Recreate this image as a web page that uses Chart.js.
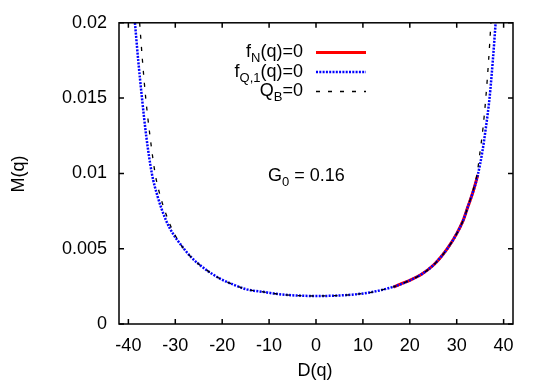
<!DOCTYPE html>
<html>
<head>
<meta charset="utf-8">
<script src="https://cdn.jsdelivr.net/npm/chart.js@4/dist/chart.umd.min.js"></script>
<style>
  html, body { margin: 0; padding: 0; background: #fff; }
</style>
</head>
<body>
<canvas id="chart" width="545" height="382"></canvas>
<script>
// axis ticks
const xTicks = [-40, -30, -20, -10, 0, 10, 20, 30, 40];
const yTicks = [0, 0.005, 0.01, 0.015, 0.02];
const yTickLabels = ['0', '0.005', '0.01', '0.015', '0.02'];

// f_N(q)=0  (red, solid)
const fnD = [16.5, 18.0, 20.0, 22.5, 25.0, 26.5, 28.0, 30.0, 31.4, 32.4, 33.5, 34.5];
const fnM = [0.00245, 0.00265, 0.0029, 0.0033, 0.0039, 0.0044, 0.0050, 0.0060, 0.0069, 0.0078, 0.0088, 0.0099];

// f_Q,1(q)=0  (blue, dotted)
const fqD = [-38.6, -37.9, -37.1, -36.2, -35.0, -33.8, -32.0, -30.5, -28.9, -26.8, -24.7, -22.5, -20.4, -17.5, -14.8, -11.0, -7.7, -4.0, 0,
             4.0, 7.7, 11.0, 14.0, 17.0, 20.0, 22.5, 25.0, 26.5, 28.0, 30.0, 31.4, 32.4, 33.5, 34.5, 35.5, 36.2, 37.0, 37.7, 38.3];
const fqM = [0.0200, 0.0175, 0.0150, 0.0125, 0.0100, 0.0085, 0.0069, 0.0060, 0.0053, 0.0045, 0.0039, 0.0034, 0.0030, 0.0026, 0.0023, 0.00212, 0.00197, 0.00189, 0.00186,
             0.00188, 0.00195, 0.00207, 0.00226, 0.00252, 0.0029, 0.0033, 0.0039, 0.0044, 0.0050, 0.0060, 0.0069, 0.0078, 0.0088, 0.0099, 0.0115, 0.0130, 0.0150, 0.0175, 0.0200];

// Q_B=0  (black, dashed)
const qbD = [-37.6, -37.0, -36.3, -35.4, -34.3, -33.2, -31.5, -30.2, -28.9, -26.8, -24.7, -22.5, -20.4, -17.5, -14.8, -11.0, -7.7, -4.0, 0,
             4.0, 7.7, 11.0, 14.0, 17.0, 20.0, 22.5, 25.0, 26.5, 28.0, 30.0, 31.4, 32.4, 33.4, 34.3, 35.0, 35.6, 36.2, 36.8, 37.3];
const qbM = [0.0200, 0.0175, 0.0150, 0.0125, 0.0100, 0.0085, 0.0069, 0.0060, 0.0053, 0.0045, 0.0039, 0.0034, 0.0030, 0.0026, 0.0023, 0.00212, 0.00197, 0.00189, 0.00186,
             0.00188, 0.00195, 0.00207, 0.00226, 0.00252, 0.0029, 0.0033, 0.0039, 0.0044, 0.0050, 0.0060, 0.0069, 0.0078, 0.0088, 0.0099, 0.0115, 0.0130, 0.0150, 0.0175, 0.0200];

const FONT = '"Liberation Sans", Arial, Helvetica, sans-serif';

function pts(xs, ys) {
  return xs.map((x, i) => ({x: x, y: ys[i]}));
}

// text with subscripts: parts = [[text, isSub], ...]
function richText(ctx, parts, x, y, align) {
  let total = 0;
  parts.forEach(p => {
    ctx.font = (p[1] ? '13px ' : '18px ') + FONT;
    total += ctx.measureText(p[0]).width;
  });
  let cx = align === 'right' ? x - total : (align === 'center' ? x - total / 2 : x);
  ctx.textAlign = 'left';
  ctx.textBaseline = 'alphabetic';
  parts.forEach(p => {
    ctx.font = (p[1] ? '13px ' : '18px ') + FONT;
    ctx.fillText(p[0], cx, p[1] ? y + 5 : y);
    cx += ctx.measureText(p[0]).width;
  });
}

const legendRows = [
  {parts: [['f', 0], ['N', 1], ['(q)=0', 0]], color: 'rgb(255,0,0)', width: 3, dash: []},
  {parts: [['f', 0], ['Q,1', 1], ['(q)=0', 0]], color: 'rgb(0,0,255)', width: 2.5, dash: [2, 1.3]},
  {parts: [['Q', 0], ['B', 1], ['=0', 0]], color: '#000', width: 1.3, dash: [4, 8]}
];

const frame = {
  id: 'frame',
  afterDraw(chart) {
    const ctx = chart.ctx;
    const a = chart.chartArea;
    const xs = chart.scales.x, ys = chart.scales.y;
    ctx.save();
    ctx.strokeStyle = '#000';
    ctx.lineWidth = 1.5;
    ctx.setLineDash([]);
    ctx.beginPath();
    xTicks.forEach(v => {
      const px = xs.getPixelForValue(v);
      ctx.moveTo(px, a.bottom); ctx.lineTo(px, a.bottom - 5);
      ctx.moveTo(px, a.top); ctx.lineTo(px, a.top + 5);
    });
    yTicks.forEach(v => {
      const py = ys.getPixelForValue(v);
      ctx.moveTo(a.left, py); ctx.lineTo(a.left + 5, py);
      ctx.moveTo(a.right, py); ctx.lineTo(a.right - 5, py);
    });
    ctx.stroke();
    ctx.strokeRect(a.left, a.top, a.right - a.left, a.bottom - a.top);

    ctx.fillStyle = '#000';
    // legend
    const ly = [57, 76.5, 96];
    legendRows.forEach((r, i) => {
      richText(ctx, r.parts, 303, ly[i], 'right');
      ctx.beginPath();
      ctx.strokeStyle = r.color;
      ctx.lineWidth = r.width;
      ctx.setLineDash(r.dash);
      ctx.moveTo(316, ly[i] - 4.5);
      ctx.lineTo(366, ly[i] - 4.5);
      ctx.stroke();
    });
    ctx.setLineDash([]);
    // label
    richText(ctx, [['G', 0], ['0', 1], [' = 0.16', 0]], 268, 181, 'left');
    // axis titles
    ctx.font = '18px ' + FONT;
    ctx.textAlign = 'center';
    ctx.textBaseline = 'alphabetic';
    ctx.fillText('D(q)', 315, 376);
    ctx.translate(23.5, 174);
    ctx.rotate(-Math.PI / 2);
    ctx.fillText('M(q)', 0, 0);
    ctx.restore();
  }
};

new Chart(document.getElementById('chart'), {
  type: 'scatter',
  data: {
    datasets: [
      {label: 'f_N(q)=0', data: pts(fnD, fnM), borderColor: 'rgb(255,0,0)', borderWidth: 3, order: 3},
      {label: 'f_Q,1(q)=0', data: pts(fqD, fqM), borderColor: 'rgb(0,0,255)', borderWidth: 2.5, borderDash: [2, 1.3], order: 2},
      {label: 'Q_B=0', data: pts(qbD, qbM), borderColor: '#000', borderWidth: 1.3, borderDash: [4, 8], order: 1}
    ].map(d => Object.assign(d, {showLine: true, pointRadius: 0, fill: false, cubicInterpolationMode: 'monotone'}))
  },
  options: {
    responsive: false,
    animation: false,
    layout: {padding: {top: 22, right: 32, left: 0, bottom: 0}},
    plugins: {legend: {display: false}, tooltip: {enabled: false}},
    scales: {
      x: {
        min: -42, max: 42,
        grid: {display: false, drawTicks: false},
        border: {display: false},
        afterBuildTicks: s => { s.ticks = xTicks.map(v => ({value: v})); },
        afterFit: s => { s.height = 58; },
        ticks: {color: '#000', padding: 11, maxRotation: 0, font: {family: FONT, size: 18}}
      },
      y: {
        min: 0, max: 0.02,
        grid: {display: false, drawTicks: false},
        border: {display: false},
        afterBuildTicks: s => { s.ticks = yTicks.map(v => ({value: v})); },
        afterFit: s => { s.width = 119; },
        ticks: {color: '#000', padding: 12, font: {family: FONT, size: 18},
                callback: (v, i) => yTickLabels[i]}
      }
    }
  },
  plugins: [frame]
});
</script>
</body>
</html>
